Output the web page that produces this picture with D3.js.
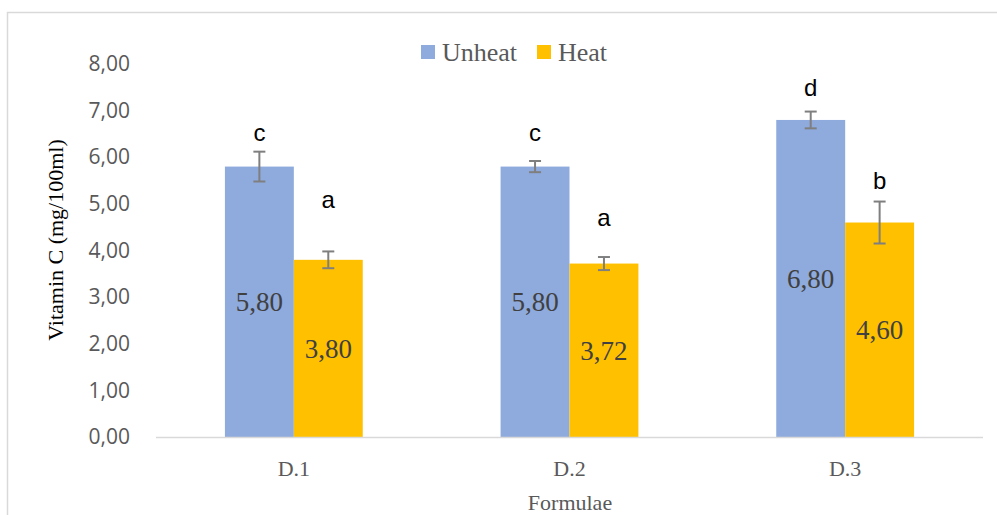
<!DOCTYPE html>
<html>
<head>
<meta charset="utf-8">
<script src="https://cdn.jsdelivr.net/npm/d3@7"></script>
<style>
  html, body { margin: 0; padding: 0; background: #fff; }
  svg { display: block; }
</style>
</head>
<body>
<svg id="chart" width="997" height="515"></svg>
<script>
// ---- data ----
const categories = ["D.1", "D.2", "D.3"];
const seriesNames = ["Unheat", "Heat"];
const unheatValues = [5.80, 5.80, 6.80];
const heatValues = [3.80, 3.72, 4.60];
const unheatErrors = [0.32, 0.12, 0.18];
const heatErrors = [0.18, 0.14, 0.45];
const unheatLetters = ["c", "c", "d"];
const heatLetters = ["a", "a", "b"];
// letter anchor heights (in data units, as placed in the original)
const unheatLetterAt = [6.52, 6.52, 7.49];
const heatLetterAt = [5.09, 4.70, 5.49];
const yTicks = [0, 1, 2, 3, 4, 5, 6, 7, 8];
const yTitle = "Vitamin C (mg/100ml)";
const xTitle = "Formulae";

const colors = { Unheat: "#8faadc", Heat: "#ffc000" };

const svg = d3.select("#chart");

// chart border
svg.append("rect")
  .attr("x", 7.5).attr("y", 12.5)
  .attr("width", 1000).attr("height", 520)
  .attr("fill", "#fff").attr("stroke", "#d9d9d9").attr("stroke-width", 1.5);

const plot = { left: 156, right: 983, top: 64, bottom: 437 };

const y = d3.scaleLinear().domain([0, 8]).range([plot.bottom, plot.top]);
const x0 = d3.scaleBand().domain(categories).range([plot.left, plot.right]).padding(0);
const x1 = d3.scaleBand().domain(seriesNames).range([0, x0.bandwidth()])
  .paddingInner(0).paddingOuter(1);

const fmt = v => d3.format(".2f")(v).replace(".", ",");

// y axis labels
const yAxis = d3.axisLeft(y).tickValues(yTicks).tickFormat(fmt).tickSize(0).tickPadding(26);
const gy = svg.append("g").attr("transform", `translate(${plot.left},0)`).call(yAxis);
gy.select(".domain").remove();
gy.selectAll("text")
  .attr("font-family", "'Open Sans', 'Liberation Sans', sans-serif")
  .attr("font-size", 21)
  .attr("fill", "#595959");

// bars data
const data = categories.map((c, i) => ({
  cat: c,
  series: [
    { name: "Unheat", value: unheatValues[i], err: unheatErrors[i], letter: unheatLetters[i], letterAt: unheatLetterAt[i] },
    { name: "Heat", value: heatValues[i], err: heatErrors[i], letter: heatLetters[i], letterAt: heatLetterAt[i] }
  ]
}));

const groups = svg.append("g").selectAll("g")
  .data(data).join("g")
  .attr("transform", d => `translate(${x0(d.cat)},0)`);

groups.selectAll("rect")
  .data(d => d.series).join("rect")
  .attr("x", d => x1(d.name))
  .attr("y", d => y(d.value))
  .attr("width", x1.bandwidth())
  .attr("height", d => y(0) - y(d.value))
  .attr("fill", d => colors[d.name]);

// x axis line
svg.append("line")
  .attr("x1", plot.left).attr("x2", plot.right)
  .attr("y1", plot.bottom + 0.5).attr("y2", plot.bottom + 0.5)
  .attr("stroke", "#d9d9d9").attr("stroke-width", 1.5);

// value labels (centered)
groups.selectAll("text.val")
  .data(d => d.series).join("text")
  .attr("class", "val")
  .attr("x", d => x1(d.name) + x1.bandwidth() / 2)
  .attr("y", d => y(d.value / 2))
  .attr("dy", "0.35em")
  .attr("text-anchor", "middle")
  .attr("font-family", "'Liberation Serif', 'Times New Roman', serif")
  .attr("font-size", 27)
  .attr("fill", "#404040")
  .text(d => fmt(d.value));

// error bars
const eb = groups.selectAll("g.err")
  .data(d => d.series).join("g").attr("class", "err")
  .attr("stroke", "#7f7f7f").attr("stroke-width", 2);
eb.append("line")
  .attr("x1", d => x1(d.name) + x1.bandwidth() / 2)
  .attr("x2", d => x1(d.name) + x1.bandwidth() / 2)
  .attr("y1", d => y(d.value + d.err))
  .attr("y2", d => y(d.value - d.err));
eb.append("line")
  .attr("x1", d => x1(d.name) + x1.bandwidth() / 2 - 6)
  .attr("x2", d => x1(d.name) + x1.bandwidth() / 2 + 6)
  .attr("y1", d => y(d.value + d.err))
  .attr("y2", d => y(d.value + d.err));
eb.append("line")
  .attr("x1", d => x1(d.name) + x1.bandwidth() / 2 - 6)
  .attr("x2", d => x1(d.name) + x1.bandwidth() / 2 + 6)
  .attr("y1", d => y(d.value - d.err))
  .attr("y2", d => y(d.value - d.err));

// significance letters
groups.selectAll("text.let")
  .data(d => d.series).join("text")
  .attr("class", "let")
  .attr("x", d => x1(d.name) + x1.bandwidth() / 2)
  .attr("y", d => y(d.letterAt))
  .attr("dy", "0.35em")
  .attr("text-anchor", "middle")
  .attr("font-family", "'Liberation Sans', Arial, sans-serif")
  .attr("font-size", 24)
  .attr("fill", "#000")
  .text(d => d.letter);

// x category labels
const xAxis = d3.axisBottom(x0).tickSize(0).tickPadding(0);
const gx = svg.append("g").attr("transform", `translate(0,${plot.bottom})`).call(xAxis);
gx.select(".domain").remove();
gx.selectAll("text")
  .attr("y", 31)
  .attr("dy", "0.35em")
  .attr("font-family", "'Liberation Serif', 'Times New Roman', serif")
  .attr("font-size", 22)
  .attr("fill", "#595959");

// x title
svg.append("text")
  .attr("x", 570).attr("y", 502).attr("dy", "0.35em")
  .attr("text-anchor", "middle")
  .attr("font-family", "'Liberation Serif', 'Times New Roman', serif")
  .attr("font-size", 22)
  .attr("fill", "#595959")
  .text(xTitle);

// y title
svg.append("text")
  .attr("transform", "translate(55,240) rotate(-90)")
  .attr("dy", "0.35em")
  .attr("text-anchor", "middle")
  .attr("font-family", "'Liberation Serif', 'Times New Roman', serif")
  .attr("font-size", 22)
  .attr("fill", "#000")
  .text(yTitle);

// legend
const legend = svg.append("g");
const legendItems = [
  { name: "Unheat", x: 421 },
  { name: "Heat", x: 537 }
];
const li = legend.selectAll("g").data(legendItems).join("g")
  .attr("transform", d => `translate(${d.x},45)`);
li.append("rect").attr("width", 14).attr("height", 14).attr("fill", d => colors[d.name]);
li.append("text")
  .attr("x", 21).attr("y", 7).attr("dy", "0.35em")
  .attr("font-family", "'Liberation Serif', 'Times New Roman', serif")
  .attr("font-size", 26)
  .attr("fill", "#595959")
  .text(d => d.name);
</script>
</body>
</html>
